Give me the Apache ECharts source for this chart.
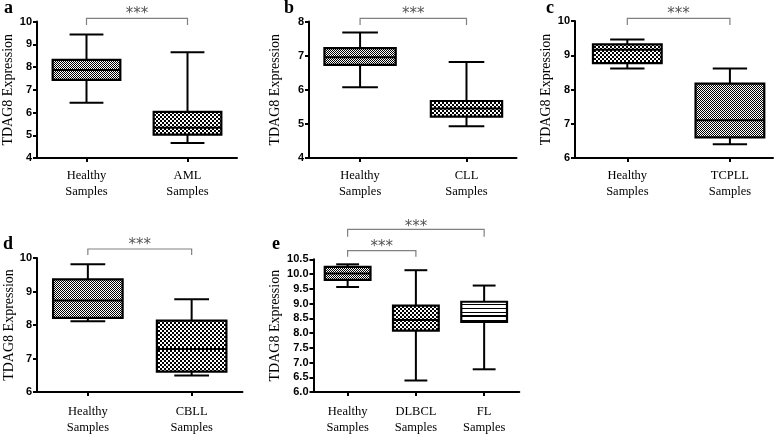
<!DOCTYPE html>
<html><head><meta charset="utf-8">
<script src="https://cdn.jsdelivr.net/npm/echarts@6/dist/echarts.min.js"></script>
<style>html,body{margin:0;padding:0;background:#fff}#c{width:784px;height:436px}</style>
</head><body><div id="c"></div>
<script>
// ---- categories ----
const catA = ['Healthy\nSamples', 'AML\nSamples'];
const catB = ['Healthy\nSamples', 'CLL\nSamples'];
const catC = ['Healthy\nSamples', 'TCPLL\nSamples'];
const catD = ['Healthy\nSamples', 'CBLL\nSamples'];
const catE = ['Healthy\nSamples', 'DLBCL\nSamples', 'FL\nSamples'];
// ---- box values: [whisker low, Q1, median, Q3, whisker high] ----
const boxA = [[6.43, 7.43, 7.87, 8.31, 9.43], [4.66, 5.03, 5.33, 6.03, 8.65]];
const boxB = [[6.07, 6.73, 6.95, 7.22, 7.68], [4.93, 5.21, 5.45, 5.67, 6.81]];
const boxC = [[8.61, 8.77, 9.16, 9.32, 9.46], [6.40, 6.60, 7.10, 8.17, 8.61]];
const boxD = [[8.11, 8.21, 8.73, 9.36, 9.81], [6.49, 6.61, 7.28, 8.13, 8.77]];
const boxE = [[9.56, 9.80, 10.02, 10.24, 10.33], [6.39, 8.08, 8.44, 8.93, 10.13], [6.77, 8.38, 8.58, 9.06, 9.61]];
// ---- y axis ranges / tick steps ----
const yRangeA = [4, 10, 1];
const yRangeB = [4, 8, 1];
const yRangeC = [6, 10, 1];
const yRangeD = [6, 10, 1];
const yRangeE = [6, 10.5, 0.5];
// ---- significance comparisons [from, to] and labels ----
const sigA = [[0, 1]], sigLabA = ['***'];
const sigB = [[0, 1]], sigLabB = ['***'];
const sigC = [[0, 1]], sigLabC = ['***'];
const sigD = [[0, 1]], sigLabD = ['***'];
const sigE = [[0, 1], [0, 2]], sigLabE = ['***', '***'];
const panelLetters = ['a', 'b', 'c', 'd', 'e'];
const yTitle = 'TDAG8 Expression';

// ---- patterns ----
function mk(w, h, draw) { const c = document.createElement('canvas'); c.width = w; c.height = h; const g = c.getContext('2d'); g.fillStyle = '#fff'; g.fillRect(0, 0, w, h); g.fillStyle = '#000'; draw(g); return c; }
const patterns = {
  fine: mk(2, 2, g => { g.fillRect(0, 0, 1, 1); g.fillRect(1, 1, 1, 1); }),
  coarse: mk(4, 4, g => { g.fillRect(0, 0, 2, 2); g.fillRect(2, 2, 2, 2); }),
  stripe: mk(4, 4, g => { g.fillRect(0, 0, 4, 1); })
};

// ---- layout / style (not data) ----
const panels = [
  { cats: catA, box: boxA, yr: yRangeA, sig: sigA, sigLab: sigLabA, fills: ['fine', 'coarse'],
    grid: { left: 35, top: 21.5, width: 202, height: 136.5 }, xr: [-0.49, 1.49], nameGap: 22, labMargin: 10,
    sigOff: [{ line: 3.2, tick: 6.7, star: 8.3 }], letter: [4, -1] },
  { cats: catB, box: boxB, yr: yRangeB, sig: sigB, sigLab: sigLabB, fills: ['fine', 'coarse'],
    grid: { left: 309, top: 21.5, width: 207.5, height: 136.5 }, xr: [-0.48, 1.47], nameGap: 27, labMargin: 10,
    sigOff: [{ line: 3.2, tick: 6.7, star: 8.3 }], letter: [284, -1] },
  { cats: catC, box: boxC, yr: yRangeC, sig: sigC, sigLab: sigLabC, fills: ['coarse', 'fine'],
    grid: { left: 575, top: 21, width: 198, height: 137 }, xr: [-0.51, 1.42], nameGap: 21.5, labMargin: 10,
    sigOff: [{ line: 2.7, tick: 6.7, star: 8.3 }], letter: [546, -1] },
  { cats: catD, box: boxD, yr: yRangeD, sig: sigD, sigLab: sigLabD, fills: ['fine', 'coarse'],
    grid: { left: 37, top: 258, width: 205.5, height: 135.5 }, xr: [-0.49, 1.49], nameGap: 20.5, labMargin: 12,
    sigOff: [{ line: 9, tick: 6, star: 8 }], letter: [3, 235] },
  { cats: catE, box: boxE, yr: yRangeE, sig: sigE, sigLab: sigLabE, fills: ['fine', 'coarse', 'stripe'],
    grid: { left: 313.5, top: 259.3, width: 205.8, height: 135 }, xr: [-0.5, 2.515], nameGap: 31, labMargin: 12,
    sigOff: [{ line: 8.6, tick: 6, star: 7.4 }, { line: 30, tick: 7.4, star: 6.6 }], letter: [272, 235.6] }
];

const grids = [], xAxes = [], yAxes = [], series = [], graphics = [];
panels.forEach((p, k) => {
  grids.push(Object.assign({ containLabel: false }, p.grid));
  const idx = p.cats.map((_, i) => i);
  xAxes.push({
    type: 'value', gridIndex: k, min: p.xr[0], max: p.xr[1],
    axisLine: { show: true, onZero: false, lineStyle: { color: '#000', width: 2 } },
    axisTick: { show: true, customValues: idx, length: 4, lineStyle: { color: '#000', width: 2 } },
    axisLabel: { customValues: idx, formatter: v => p.cats[Math.round(v)], margin: p.labMargin,
      fontFamily: 'Liberation Serif', fontSize: 12.5, lineHeight: 16, color: '#000' },
    splitLine: { show: false }
  });
  yAxes.push({
    type: 'value', gridIndex: k, min: p.yr[0], max: p.yr[1], interval: p.yr[2],
    name: yTitle, nameLocation: 'middle', nameGap: p.nameGap,
    nameTextStyle: { fontFamily: 'Liberation Serif', fontSize: 14, color: '#000' },
    axisLine: { show: true, onZero: false, lineStyle: { color: '#000', width: 2 } },
    axisTick: { show: true, length: 4, lineStyle: { color: '#000', width: 2 } },
    axisLabel: { margin: 5, fontFamily: 'Liberation Sans', fontWeight: 'bold', fontSize: 11, color: '#000',
      formatter: v => p.yr[2] < 1 ? v.toFixed(1) : String(v) },
    splitLine: { show: false }
  });
  series.push({
    type: 'custom', xAxisIndex: k, yAxisIndex: k, clip: false, silent: true,
    data: p.box.map((b, i) => [i].concat(b)),
    encode: { x: 0, y: [1, 2, 3, 4, 5] },
    renderItem: function (params, api) {
      const i = api.value(0);
      const cx = api.coord([i, 0])[0];
      const band = api.size([1, 0])[0];
      const bw = band * 0.67, cw = bw * 0.5;
      const yLo = api.coord([i, api.value(1)])[1], yQ1 = api.coord([i, api.value(2)])[1],
        yMed = api.coord([i, api.value(3)])[1], yQ3 = api.coord([i, api.value(4)])[1],
        yHi = api.coord([i, api.value(5)])[1];
      const ls = { stroke: '#000', lineWidth: 2 };
      return { type: 'group', children: [
        { type: 'line', shape: { x1: cx, y1: yHi, x2: cx, y2: yLo }, style: ls },
        { type: 'line', shape: { x1: cx - cw / 2, y1: yHi, x2: cx + cw / 2, y2: yHi }, style: ls },
        { type: 'line', shape: { x1: cx - cw / 2, y1: yLo, x2: cx + cw / 2, y2: yLo }, style: ls },
        { type: 'rect', shape: { x: cx - bw / 2, y: yQ3, width: bw, height: yQ1 - yQ3 },
          style: { fill: { image: patterns[p.fills[i]], repeat: 'repeat' }, stroke: '#000', lineWidth: 2.2 } },
        { type: 'line', shape: { x1: cx - bw / 2, y1: yMed, x2: cx + bw / 2, y2: yMed }, style: ls }
      ] };
    }
  });
  series.push({
    type: 'custom', xAxisIndex: k, yAxisIndex: k, clip: false, silent: true,
    data: p.sig.map(s => [s[0], s[1], p.yr[1]]),
    encode: { x: [0, 1], y: 2 },
    renderItem: function (params, api) {
      const o = p.sigOff[params.dataIndex];
      const top = api.coord([0, api.value(2)])[1];
      const x1 = api.coord([api.value(0), 0])[0], x2 = api.coord([api.value(1), 0])[0];
      const y = top - o.line;
      const st = { stroke: '#808080', lineWidth: 1.2 };
      return { type: 'group', children: [
        { type: 'polyline', shape: { points: [[x1, y + o.tick], [x1, y], [x2, y], [x2, y + o.tick]] }, style: Object.assign({ fill: null }, st) },
        { type: 'text', x: (x1 + x2) / 2, y: y - o.star + 4,
          style: { text: p.sigLab[params.dataIndex], fontFamily: 'DejaVu Sans', fontSize: 15, fill: '#555', align: 'center', verticalAlign: 'middle' } }
      ] };
    }
  });
  graphics.push({ type: 'text', x: p.letter[0], y: p.letter[1],
    style: { text: panelLetters[k], fontFamily: 'Liberation Serif', fontWeight: 'bold', fontSize: 18, fill: '#000', verticalAlign: 'top' } });
});

const chart = echarts.init(document.getElementById('c'), null, { renderer: 'canvas' });
chart.setOption({ animation: false, backgroundColor: '#fff', grid: grids, xAxis: xAxes, yAxis: yAxes, series: series, graphic: graphics });
</script></body></html>
